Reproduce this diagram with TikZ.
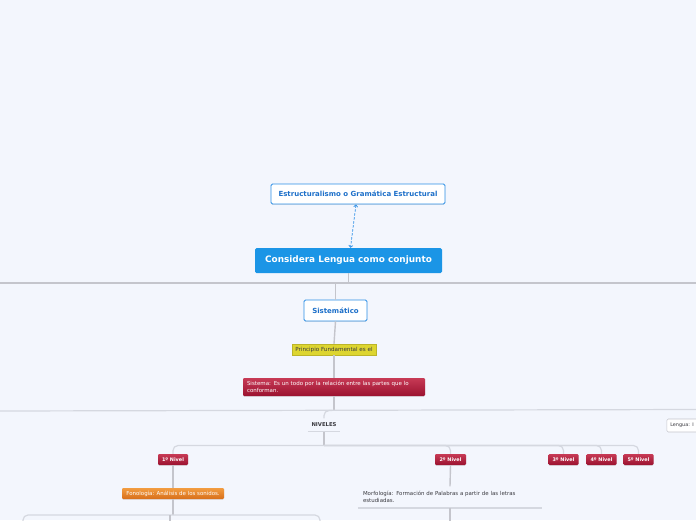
\documentclass[tikz,border=0pt]{standalone}
\usepackage{fontspec}
\setmainfont{DejaVu Sans}
\usetikzlibrary{arrows.meta,shadows}
\definecolor{fondo}{HTML}{F3F6FD}
\definecolor{bordeazul}{HTML}{2B8EE6}
\definecolor{textoazul}{HTML}{1C6FC9}
\definecolor{azulfuerte}{HTML}{1B95E6}
\definecolor{rojoarriba}{HTML}{C73A55}
\definecolor{rojoabajo}{HTML}{9B1230}
\definecolor{naranjaarriba}{HTML}{F29C40}
\definecolor{naranjaabajo}{HTML}{D86F1A}
\definecolor{amarillo}{HTML}{DDD530}
\definecolor{linea}{HTML}{C4C5CC}
\definecolor{lineaclara}{HTML}{D5D8E0}
\definecolor{textogris}{HTML}{3A3A40}

\begin{document}
\begin{tikzpicture}[x=1pt,y=-1pt,
    sombra/.style={drop shadow={shadow xshift=0pt, shadow yshift=-0.8pt, opacity=0.18}},
    tema/.style={draw=bordeazul, fill=white, line width=0.9pt, rounded corners=1.5pt,
        text=textoazul, font=\fontsize{7}{8}\selectfont\bfseries, inner sep=0pt, sombra},
    central/.style={fill=azulfuerte, rounded corners=1.5pt, text=white,
        font=\fontsize{8.9}{10}\selectfont\bfseries, inner sep=0pt, minimum width=187pt, minimum height=25pt},
    nivel/.style={top color=rojoarriba, bottom color=rojoabajo, rounded corners=1.2pt, text=white,
        font=\fontsize{4.9}{5}\selectfont\bfseries, inner sep=0pt, minimum height=11pt, minimum width=30pt, sombra},
    etiqueta/.style={font=\fontsize{5.45}{7.2}\selectfont, text=textogris, inner sep=0pt},
    rama/.style={draw=linea, line width=1.4pt},
    ramaclara/.style={draw=lineaclara, line width=1.2pt, rounded corners=5pt},
    flecha/.style={draw=bordeazul, line width=0.7pt, dash pattern=on 2.5pt off 1.5pt,
        {Straight Barb[length=2pt,width=4pt]}-{Straight Barb[length=2pt,width=4pt]}}
    ]
\useasboundingbox[fill=fondo] (0,0) rectangle (696,520);
\clip (0,0) rectangle (696,520);

\node[tema, minimum width=174pt, minimum height=20pt] (estr) at (358,194) {Estructuralismo o Gramática Estructural};
\node[central] (cons) at (348.5,260.5) {Considera Lengua como conjunto};
\node[tema, minimum width=63pt, minimum height=21pt] (sist) at (335.5,310.5) {Sistemático};
\node[etiqueta, fill=amarillo, draw=amarillo!85!black, line width=0.3pt, minimum width=84pt, minimum height=11pt,
    font=\fontsize{5.6}{7}\selectfont, sombra] (princ) at (334,349.5) {Principio Fundamental es el};
\node[etiqueta, top color=rojoarriba, bottom color=rojoabajo, text=white, rounded corners=1.2pt,
    minimum width=182pt, minimum height=18pt, text width=174pt, align=left, inner xsep=4pt,
    font=\fontsize{5.5}{7}\selectfont, sombra] (sistema) at (334,387)
    {Sistema: Es un todo por la relación entre las partes que lo\\conforman.};
\node[etiqueta, minimum width=32pt, minimum height=13pt, font=\fontsize{5.3}{6}\selectfont\bfseries] (niv) at (324,425) {NIVELES};
\node[etiqueta, draw=linea, fill=white, line width=0.6pt, rounded corners=1.5pt, anchor=west,
    minimum height=13pt, text width=40pt, align=left, inner xsep=3.5pt, font=\fontsize{4.9}{6}\selectfont] (leng) at (666.5,425.5) {Lengua: I};

\node[nivel] (n1) at (173,459.5) {1º Nivel};
\node[nivel, minimum width=31pt] (n2) at (450.5,459.5) {2º Nivel};
\node[nivel] (n3) at (563.5,459.5) {3º Nivel};
\node[nivel] (n4) at (601.5,459.5) {4º Nivel};
\node[nivel] (n5) at (638.5,459.5) {5º Nivel};

\node[etiqueta, top color=naranjaarriba, bottom color=naranjaabajo, text=white, rounded corners=1.2pt,
    minimum width=102pt, minimum height=11pt, sombra] (fono) at (173,493.5) {Fonología: Análisis de los sonidos.};
\node[etiqueta, minimum width=184pt, minimum height=21pt, text width=174pt, align=left, inner xsep=5pt] (morf) at (450,497)
    {Morfología: Formación de Palabras a partir de las letras\\estudiadas.};

\coordinate (b1) at (348.5,283);
\coordinate (b2) at (334,410.5);
\coordinate (b3) at (324,445.5);
\coordinate (b4) at (173,515);

\draw[flecha] ([xshift=-2pt]estr.south) -- ([xshift=2pt]cons.north);

\draw[rama] (cons.south) -- (b1);
\draw[rama] (0,283) -- (696,283);
\draw[rama] (sist.north |- b1) -- (sist.north);
\draw[rama] (sist.south) -- (princ.north);
\draw[rama] (princ.south) -- (sistema.north);
\draw[rama] (sistema.south) -- (b2);

\draw[ramaclara] (0,411) -- (696,409.5);
\draw[ramaclara] (332,410.5) -| (niv.north);
\draw[ramaclara] (niv.south west) -- (niv.south east);
\draw[rama] (niv.south) -- (b3);
\foreach \n in {n1,n2,n3,n4,n5}
    \draw[ramaclara] (b3) -| (\n.north);

\draw[rama] (n1.south) -- (fono.north);
\draw[rama] (fono.south) -- (b4);
\coordinate (f1) at (23,525);
\coordinate (f2) at (170,525);
\coordinate (f3) at (320,525);
\draw[ramaclara] (b4) -| (f1);
\draw[ramaclara] (b4) -| (f3);
\draw[rama] (f2 |- b4) -- (f2);

\draw[rama] (n2.south) -- (morf.north);
\draw[ramaclara, line width=1.6pt] (morf.south west) -- (morf.south east);
\coordinate (m1) at (450,525);
\draw[rama] (morf.south) -- (m1);
\end{tikzpicture}
\end{document}
